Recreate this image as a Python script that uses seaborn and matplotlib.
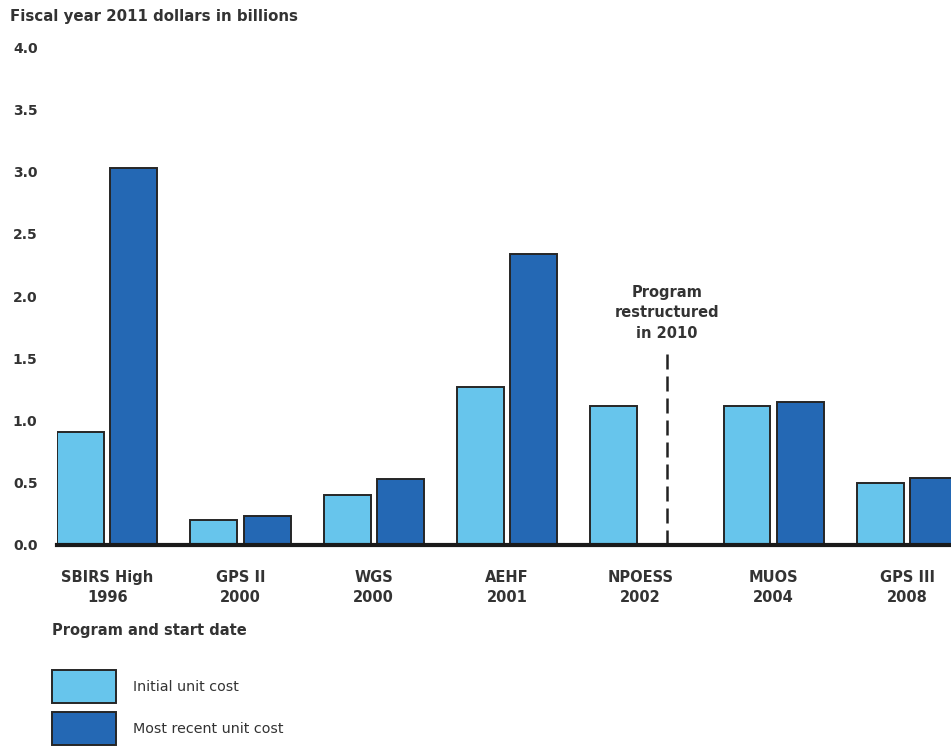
import matplotlib
matplotlib.use("Agg")
import matplotlib.pyplot as plt
from matplotlib.patches import Patch
import pandas as pd
import seaborn as sns

# Programs (with start date) and unit costs, fiscal year 2011 dollars in billions
programs = ["SBIRS High\n1996", "GPS II\n2000", "WGS\n2000", "AEHF\n2001",
            "NPOESS\n2002", "MUOS\n2004", "GPS III\n2008"]
initial_cost = [0.91, 0.20, 0.40, 1.27, 1.12, 1.12, 0.50]
recent_cost = [3.03, 0.23, 0.53, 2.34, None, 1.15, 0.54]
series = ["Initial unit cost", "Most recent unit cost"]
colors = ["#67C5EC", "#2468B4"]
y_ticks = [0.0, 0.5, 1.0, 1.5, 2.0, 2.5, 3.0, 3.5, 4.0]

rows = []
for p, a, b in zip(programs, initial_cost, recent_cost):
    rows.append({"program": p, "cost": series[0], "value": a})
    if b is not None:
        rows.append({"program": p, "cost": series[1], "value": b})
df = pd.DataFrame(rows)

sns.set_style("white")
plt.rcParams["font.family"] = ["DejaVu Sans"]
txt = "#333333"

fig = plt.figure(figsize=(9.51, 7.47), dpi=100)
ax = fig.add_axes([57 / 951, 202 / 747, 1 - 57 / 951, 498 / 747])

sns.barplot(data=df, x="program", y="value", hue="cost", order=programs,
            hue_order=series, palette=colors, saturation=1, gap=0.12, width=0.8,
            edgecolor="#262626", linewidth=1.4, errorbar=None, legend=False, ax=ax)

ax.set_xlim(-0.376, 6.33)
ax.set_ylim(0, 4.0)
ax.set_yticks(y_ticks)
ax.set_yticklabels([f"{t:.1f}" for t in y_ticks], fontweight="bold", color=txt, fontsize=10)
ax.tick_params(axis="y", length=0, pad=14)
ax.tick_params(axis="x", length=0, pad=18)
for lab in ax.get_xticklabels():
    lab.set_fontweight("bold")
    lab.set_color(txt)
    lab.set_fontsize(10.5)
    lab.set_linespacing(1.4)
ax.set_xlabel("")
ax.set_ylabel("")
for s in ["left", "top", "right"]:
    ax.spines[s].set_visible(False)
ax.spines["bottom"].set_linewidth(3)
ax.spines["bottom"].set_color("#1a1a1a")

# restructuring marker for NPOESS
ax.plot([4.2, 4.2], [0, 1.59], color="#222222", lw=1.8, linestyle=(0, (6, 2.8)))
ax.text(4.2, 1.64, "Program\nrestructured\nin 2010", ha="center", va="bottom",
        fontsize=10.5, fontweight="bold", color=txt, linespacing=1.45)

fig.text(10 / 951, 1 - 17 / 747, "Fiscal year 2011 dollars in billions", ha="left",
         va="center", fontsize=10.8, fontweight="bold", color=txt)
fig.text(52 / 951, 1 - 630 / 747, "Program and start date", ha="left",
         va="center", fontsize=10.5, fontweight="bold", color=txt)

handles = [Patch(facecolor=c, edgecolor="#262626", linewidth=1.4, label=l)
           for c, l in zip(colors, series)]
fig.legend(handles=handles, loc="upper left", bbox_to_anchor=(52 / 951, 1 - 670 / 747),
           frameon=False, borderpad=0, borderaxespad=0, handlelength=4.48,
           handleheight=3.17, handletextpad=1.18, labelspacing=0.63,
           prop={"size": 10.3}, labelcolor=txt)

fig.savefig("out.png", dpi=100)
